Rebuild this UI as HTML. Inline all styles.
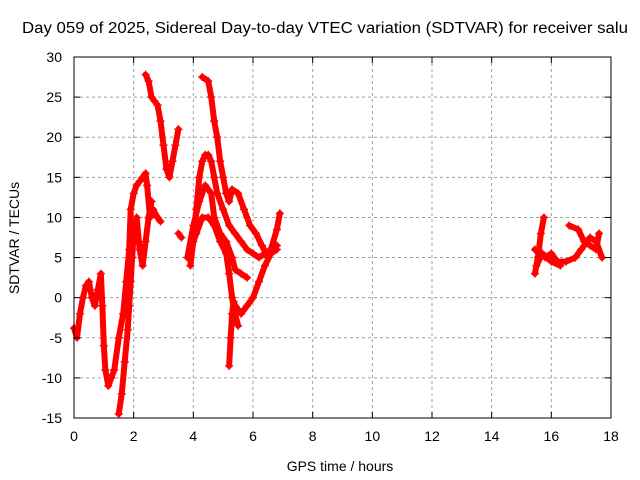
<!DOCTYPE html>
<html><head><meta charset="utf-8"><style>body{margin:0;background:#fff}svg{display:block;font-family:"Liberation Sans",sans-serif}</style></head>
<body>
<svg id="chart" width="640" height="480">
<rect width="640" height="480" fill="#fff"/>
<text x="22" y="33" font-size="15.5" textLength="606" lengthAdjust="spacingAndGlyphs">Day 059 of 2025, Sidereal Day-to-day VTEC variation (SDTVAR) for receiver salu</text>
<g id="grid"></g><g id="series"></g><g id="axes"></g>
<text x="340" y="471" font-size="14" text-anchor="middle">GPS time / hours</text>
<text transform="translate(19,238) rotate(-90)" font-size="14" text-anchor="middle">SDTVAR / TECUs</text>
</svg>
<script>
const xTicks=[0,2,4,6,8,10,12,14,16,18];
const yTicks=[-15,-10,-5,0,5,10,15,20,25,30];
const t1=[[0,-3.8],[0.1,-5],[0.2,-2],[0.3,0],[0.4,1.5],[0.5,2],[0.6,0],[0.7,-1],[0.8,1],[0.9,3],[0.95,-1],[1.0,-6],[1.05,-9],[1.15,-11],[1.25,-10],[1.35,-9],[1.5,-5],[1.65,-2],[1.75,2],[1.85,6],[1.9,11],[2.0,13],[2.1,14],[2.2,14.5],[2.3,15],[2.4,15.5],[2.45,14],[2.55,10],[2.65,11],[2.8,10],[2.9,9.5]];
const t2=[[1.5,-14.5],[1.6,-12],[1.7,-8],[1.8,-4],[1.85,-1],[1.9,2],[1.95,5],[2.0,8],[2.1,10],[2.2,6],[2.3,4],[2.4,7],[2.5,10],[2.6,12]];
const t3=[[2.4,27.8],[2.5,27],[2.6,25],[2.7,24.5],[2.8,24],[2.9,22],[3.0,19],[3.1,16],[3.2,15],[3.3,17],[3.4,19],[3.5,21]];
const t4=[[3.5,8],[3.6,7.5]];
const t5=[[3.9,4],[4.0,7],[4.1,11],[4.2,15],[4.3,17],[4.4,17.8],[4.5,17.8],[4.6,17],[4.7,15],[4.8,13],[5.0,11],[5.2,9],[5.4,8],[5.6,7],[5.8,6],[6.0,5.5],[6.2,5],[6.4,5.5],[6.6,6],[6.8,6.5]];
const t6=[[3.8,5],[4.0,9],[4.2,12],[4.4,14],[4.6,13],[4.7,10],[4.9,8],[5.1,7],[5.3,5],[5.4,3.5],[5.6,3],[5.8,2.5]];
const t7=[[3.9,6],[4.1,8],[4.3,10],[4.5,10],[4.7,9],[4.9,7],[5.1,5.5],[5.2,3],[5.3,0],[5.4,-2],[5.5,-3.5]];
const t8=[[4.3,27.5],[4.5,27],[4.6,25],[4.7,22],[4.8,20],[4.9,17],[5.0,15],[5.1,13],[5.2,12],[5.3,13.5],[5.5,13],[5.7,11],[5.9,9],[6.1,8],[6.3,6.5],[6.5,5],[6.6,6],[6.8,8.5],[6.9,10.5]];
const t9=[[5.2,-8.5],[5.25,-5],[5.3,-2],[5.35,-0.5],[5.4,-1],[5.6,-2],[5.8,-1],[6.0,0],[6.2,2],[6.4,4],[6.6,5.5],[6.8,6]];
const t10=[[15.45,3],[15.55,5],[15.65,8],[15.75,10]];
const t11=[[15.45,6],[15.6,5.5],[15.8,5],[16.0,5.5],[16.2,4.5],[16.5,4.5],[16.8,5],[17.0,6],[17.3,7.5],[17.5,7],[17.7,5]];
const t12=[[15.5,4],[15.7,5.5],[16.0,4.5],[16.3,4]];
const t13=[[16.6,9],[16.9,8.5],[17.1,7],[17.3,6.5],[17.5,6],[17.6,8]];
const traces=[t1,t2,t3,t4,t5,t6,t7,t8,t9,t10,t11,t12,t13];
const X0=74,X1=611,Y0=418,Y1=57;
const sx=v=>X0+(v-0)/18*(X1-X0);
const sy=v=>Y0-(v+15)/45*(Y0-Y1);
const NS='http://www.w3.org/2000/svg';
function mk(tag,attrs,parent){const e=document.createElementNS(NS,tag);for(const k in attrs)e.setAttribute(k,attrs[k]);parent.appendChild(e);return e;}
const grid=document.getElementById('grid'),axes=document.getElementById('axes'),ser=document.getElementById('series');
xTicks.forEach(t=>{
 const x=sx(t);
 if(t>0&&t<18){const g=mk('line',{x1:x,x2:x,y1:Y1,y2:Y0,stroke:'#a0a0a0','stroke-dasharray':'3,3'},grid);
 
 }
 mk('line',{x1:x,x2:x,y1:Y0,y2:Y0-6,stroke:'#000'},axes);
 mk('line',{x1:x,x2:x,y1:Y1,y2:Y1+6,stroke:'#000'},axes);
 const l=mk('text',{x:x,y:Y0+23,'font-size':14,'text-anchor':'middle'},axes);l.textContent=t;
 
 
});
yTicks.forEach(t=>{
 const y=sy(t);
 if(t>-15&&t<30){const g=mk('line',{x1:X0,x2:X1,y1:y,y2:y,stroke:'#a0a0a0','stroke-dasharray':'3,3'},grid);
 
 }
 mk('line',{x1:X0,x2:X0+6,y1:y,y2:y,stroke:'#000'},axes);
 mk('line',{x1:X1,x2:X1-6,y1:y,y2:y,stroke:'#000'},axes);
 const l=mk('text',{x:X0-12,y:y+5,'font-size':14,'text-anchor':'end'},axes);l.textContent=t;
 
 
});
const fr=mk('rect',{x:X0,y:Y1,width:X1-X0,height:Y0-Y1,fill:'none',stroke:'#000'},axes);


traces.forEach(tr=>{
 const pl=mk('polyline',{points:tr.map(p=>sx(p[0])+','+sy(p[1])).join(' '),fill:'none',stroke:'#f00','stroke-width':6,'stroke-linejoin':'round','stroke-linecap':'round'},ser);
 
 
 tr.forEach(p=>{const x=sx(p[0]),y=sy(p[1]);
  const m=mk('path',{d:`M${x-4},${y}h8M${x},${y-4}v8`,stroke:'#f00','stroke-width':1.5},ser);
  
  });
});
</script>
</body></html>
